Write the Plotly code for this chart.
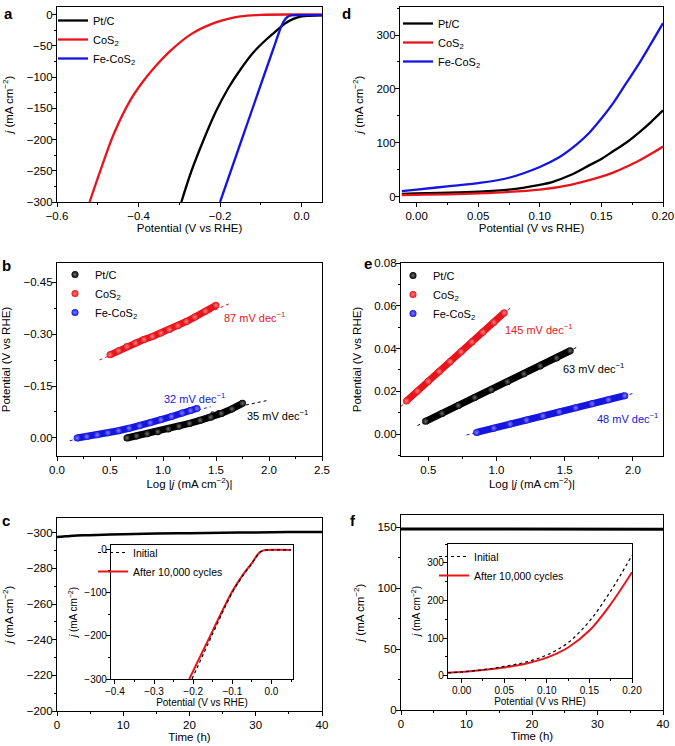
import plotly.graph_objects as go

W, H = 675, 746

# ---- panel a: HER polarisation curves (potential V vs RHE, j mA cm-2)
a_pt_x = [-0.295, -0.27, -0.24, -0.21, -0.18, -0.15, -0.12, -0.09, -0.06, -0.04, -0.02, 0.0, 0.02, 0.05]
a_pt_y = [-300, -250, -200, -155, -118, -88, -62, -42, -25, -14, -7, -3, -2, -1.5]
a_co_x = [-0.52, -0.49, -0.46, -0.42, -0.39, -0.36, -0.32, -0.27, -0.22, -0.18, -0.15, -0.1, 0.0, 0.05]
a_co_y = [-300, -243, -190, -137, -108, -84, -57, -31, -15, -7, -3, -0.5, 0, 0]
a_fe_x = [-0.2, -0.15, -0.1, -0.07, -0.055, -0.045, -0.035, -0.025, 0.0, 0.05]
a_fe_y = [-300, -206, -112, -56, -28, -12, -4, -1.5, -1, -1]

# ---- panel d: OER-side curves
d_pt_x = [-0.012, 0.05, 0.075, 0.1, 0.11, 0.125, 0.14, 0.15, 0.16, 0.17, 0.18, 0.19, 0.2]
d_pt_y = [5, 9, 13, 22, 27, 40, 58, 70, 85, 100, 118, 138, 160]
d_co_x = [-0.012, 0.05, 0.1, 0.125, 0.15, 0.16, 0.17, 0.18, 0.19, 0.2]
d_co_y = [3, 6, 13, 22, 37, 45, 55, 66, 79, 93]
d_fe_x = [-0.012, 0.0, 0.025, 0.05, 0.075, 0.1, 0.115, 0.13, 0.14, 0.15, 0.16, 0.17, 0.18, 0.19, 0.2]
d_fe_y = [10, 13, 19, 25, 35, 55, 72, 97, 118, 145, 175, 210, 245, 283, 322]

# ---- panel b: Tafel plots
b_pt_x = [0.66, 0.75, 0.85, 0.95, 1.05, 1.15, 1.25, 1.35, 1.45, 1.55, 1.65, 1.75]
b_pt_y = [0.0, -0.006, -0.012, -0.018, -0.026, -0.034, -0.042, -0.051, -0.060, -0.071, -0.084, -0.100]
b_co_x = [0.5, 0.58, 0.66, 0.74, 0.82, 0.9, 0.98, 1.06, 1.14, 1.22, 1.3, 1.4, 1.5]
b_co_y = [-0.240, -0.252, -0.264, -0.274, -0.284, -0.293, -0.303, -0.313, -0.324, -0.336, -0.349, -0.366, -0.383]
b_fe_x = [0.19, 0.28, 0.38, 0.48, 0.58, 0.68, 0.78, 0.88, 0.98, 1.08, 1.18, 1.26, 1.32]
b_fe_y = [0.0, -0.004, -0.009, -0.015, -0.021, -0.028, -0.035, -0.044, -0.053, -0.062, -0.072, -0.079, -0.085]
b_fit_pt_x = [1.45, 1.98]
b_fit_pt_y = [-0.074, -0.108]
b_fit_co_x = [0.40, 1.63]
b_fit_co_y = [-0.225, -0.388]
b_fit_fe_x = [0.12, 1.45]
b_fit_fe_y = [0.008, -0.090]
b_slopes = ["87 mV dec<sup>−1</sup>", "32 mV dec<sup>−1</sup>", "35 mV dec<sup>−1</sup>"]
b_slope_x = [1.56, 0.99, 1.77]
b_slope_y = [-0.35, -0.115, -0.065]

# ---- panel e: Tafel plots
e_pt_x = [0.48, 0.6, 0.72, 0.84, 0.96, 1.08, 1.2, 1.32, 1.44, 1.54]
e_pt_y = [0.006, 0.0097, 0.0134, 0.0171, 0.0208, 0.0245, 0.0282, 0.0319, 0.0356, 0.039]
e_co_x = [0.34, 0.42, 0.5, 0.58, 0.66, 0.74, 0.82, 0.9, 0.98, 1.057]
e_co_y = [0.0155, 0.0201, 0.0247, 0.0293, 0.0339, 0.0385, 0.0431, 0.0477, 0.0523, 0.0568]
e_fe_x = [0.854, 0.98, 1.1, 1.22, 1.34, 1.46, 1.58, 1.7, 1.82, 1.94]
e_fe_y = [0.0008, 0.0028, 0.0047, 0.0066, 0.0085, 0.0104, 0.0123, 0.0142, 0.0161, 0.018]
e_fit_pt_x = [0.42, 1.6]
e_fit_pt_y = [0.004, 0.041]
e_fit_co_x = [0.3, 1.1]
e_fit_co_y = [0.013, 0.059]
e_fit_fe_x = [0.78, 2.0]
e_fit_fe_y = [-0.0004, 0.019]
e_slopes = ["145 mV dec<sup>−1</sup>", "63 mV dec<sup>−1</sup>", "48 mV dec<sup>−1</sup>"]
e_slope_x = [1.05, 1.47, 1.72]
e_slope_y = [0.049, 0.031, 0.0077]

# ---- panel c: chronoamperometry + inset
c_t = [0, 1, 2, 4, 7, 10, 15, 20, 25, 30, 35, 40]
c_j = [-297.6, -297.9, -298.2, -298.6, -298.9, -299.2, -299.6, -299.8, -300.0, -300.2, -300.4, -300.5]
ci_init_x = [-0.203, -0.15, -0.1, -0.07, -0.05, -0.04, -0.03, -0.02, -0.01, 0.05]
ci_init_y = [-300, -195, -100, -57, -33, -19, -7, -2.5, -1.5, -1.5]
ci_aft_x = [-0.21, -0.15, -0.1, -0.07, -0.05, -0.04, -0.03, -0.02, -0.01, 0.05]
ci_aft_y = [-300, -188, -97, -55, -32, -18, -7, -2.5, -1.5, -1.5]

# ---- panel f: chronoamperometry + inset
f_t = [0, 10, 20, 30, 40]
f_j = [148.5, 148.5, 148.4, 148.4, 148.4]
fi_init_x = [-0.016, 0.0, 0.025, 0.05, 0.075, 0.1, 0.125, 0.15, 0.175, 0.2]
fi_init_y = [8, 10, 16, 25, 36, 55, 88, 145, 225, 320]
fi_aft_x = [-0.016, 0.0, 0.025, 0.05, 0.075, 0.1, 0.125, 0.15, 0.175, 0.2]
fi_aft_y = [8, 10, 15, 22, 32, 48, 75, 120, 190, 275]

BLACK, RED, BLUE = "#000000", "#e8141b", "#1515e0"
names = ["Pt/C", "CoS<sub>2</sub>", "Fe-CoS<sub>2</sub>"]
FONT = "Liberation Sans, Arial, sans-serif"


def dom_x(l, r):
    return [l / W, r / W]


def dom_y(top, bot):
    return [1 - bot / H, 1 - top / H]


def axis(domain, rng, dtick, minor, anchor, fmt=None, title=None, fsize=11.5, standoff=3, yax=False):
    d = dict(domain=domain, range=rng, dtick=dtick, anchor=anchor, automargin=False,
             showline=True, linecolor="black", linewidth=1.2, mirror=True,
             ticks="outside", ticklen=4, tickwidth=1.1, tickcolor="black",
             showgrid=False, zeroline=False, tickfont=dict(size=fsize),
             ticklabelstandoff=-3 if yax else -1,
             minor=dict(dtick=minor, ticks="outside", ticklen=2, tickwidth=1,
                        tickcolor="black", showgrid=False))
    if fmt:
        d["tickformat"] = fmt
    if title:
        d["title"] = dict(text=title, font=dict(size=fsize), standoff=standoff)
    return d


fig = go.Figure()

# panel a
for xs, ys, c, n in [(a_pt_x, a_pt_y, BLACK, names[0]), (a_co_x, a_co_y, RED, names[1]),
                     (a_fe_x, a_fe_y, BLUE, names[2])]:
    fig.add_trace(go.Scatter(x=xs, y=ys, mode="lines", name=n, line=dict(color=c, width=2.3, shape="spline"),
                             xaxis="x", yaxis="y", legend="legend"))

# panel d
for xs, ys, c, n in [(d_pt_x, d_pt_y, BLACK, names[0]), (d_co_x, d_co_y, RED, names[1]),
                     (d_fe_x, d_fe_y, BLUE, names[2])]:
    fig.add_trace(go.Scatter(x=xs, y=ys, mode="lines", name=n, line=dict(color=c, width=2.3, shape="spline"),
                             xaxis="x2", yaxis="y2", legend="legend2"))

# panels b and e (tafel)
light = {BLACK: "#707070", RED: "#ff8080", BLUE: "#8080ff"}
for ax_i, leg, sets, fits in [
    (3, "legend3", [(b_pt_x, b_pt_y, BLACK), (b_co_x, b_co_y, RED), (b_fe_x, b_fe_y, BLUE)],
     [(b_fit_pt_x, b_fit_pt_y, BLACK), (b_fit_co_x, b_fit_co_y, RED), (b_fit_fe_x, b_fit_fe_y, BLUE)]),
    (4, "legend4", [(e_pt_x, e_pt_y, BLACK), (e_co_x, e_co_y, RED), (e_fe_x, e_fe_y, BLUE)],
     [(e_fit_pt_x, e_fit_pt_y, BLACK), (e_fit_co_x, e_fit_co_y, RED), (e_fit_fe_x, e_fit_fe_y, BLUE)]),
]:
    for xs, ys, c in fits:
        fig.add_trace(go.Scatter(x=xs, y=ys, mode="lines", showlegend=False, line=dict(color=c, width=1, dash="dot"),
                                 xaxis=f"x{ax_i}", yaxis=f"y{ax_i}"))
    for (xs, ys, c), n in zip(sets, names):
        fig.add_trace(go.Scatter(x=xs, y=ys, mode="lines", showlegend=False, line=dict(color=c, width=7),
                                 xaxis=f"x{ax_i}", yaxis=f"y{ax_i}"))
        fig.add_trace(go.Scatter(x=xs, y=ys, mode="markers", name=n,
                                 marker=dict(color=c, size=7, line=dict(width=0),
                                             gradient=dict(type="radial", color=light[c])),
                                 xaxis=f"x{ax_i}", yaxis=f"y{ax_i}", legend=leg))

# panel c
fig.add_trace(go.Scatter(x=c_t, y=c_j, mode="lines", showlegend=False, line=dict(color=BLACK, width=2.5, shape="spline"),
                         xaxis="x5", yaxis="y5"))
fig.add_trace(go.Scatter(x=ci_aft_x, y=ci_aft_y, mode="lines", name="After 10,000 cycles",
                         line=dict(color=RED, width=2, shape="spline"), xaxis="x7", yaxis="y7", legend="legend5"))
fig.add_trace(go.Scatter(x=ci_init_x, y=ci_init_y, mode="lines", name="Initial",
                         line=dict(color=BLACK, width=1.2, dash="dot", shape="spline"), xaxis="x7", yaxis="y7",
                         legend="legend5"))

# panel f
fig.add_trace(go.Scatter(x=f_t, y=f_j, mode="lines", showlegend=False, line=dict(color=BLACK, width=3),
                         xaxis="x6", yaxis="y6"))
fig.add_trace(go.Scatter(x=fi_aft_x, y=fi_aft_y, mode="lines", name="After 10,000 cycles",
                         line=dict(color=RED, width=2, shape="spline"), xaxis="x8", yaxis="y8", legend="legend6"))
fig.add_trace(go.Scatter(x=fi_init_x, y=fi_init_y, mode="lines", name="Initial",
                         line=dict(color=BLACK, width=1.2, dash="dot", shape="spline"), xaxis="x8", yaxis="y8",
                         legend="legend6"))

J = "<i>j</i> (mA cm<sup>−2</sup>)"
POT = "Potential (V vs RHE)"
LOGJ = "Log |<i>j</i> (mA cm<sup>−2</sup>)|"

lay = dict(
    width=W, height=H, margin=dict(l=0, r=0, t=0, b=0),
    paper_bgcolor="white", plot_bgcolor="white",
    font=dict(family=FONT, size=11.5, color="black"),
    xaxis=axis(dom_x(57, 322), [-0.6, 0.05], 0.2, 0.1, "y", ".1f", POT),
    yaxis=axis(dom_y(7, 202), [-300, 12], 50, 25, "x", None, J, standoff=10, yax=True),
    xaxis2=axis(dom_x(400, 663), [-0.0135, 0.2], 0.05, 0.025, "y2", ".2f", POT),
    yaxis2=axis(dom_y(7, 202), [-10, 352], 100, 50, "x2", None, J, standoff=10, yax=True),
    xaxis3=axis(dom_x(57, 322), [0, 2.5], 0.5, 0.25, "y3", ".1f", LOGJ),
    yaxis3=axis(dom_y(263, 456), [0.052, -0.505], 0.15, 0.075, "x3", ".2f", POT, standoff=10, yax=True),
    xaxis4=axis(dom_x(401, 663), [0.3, 2.22], 0.5, 0.25, "y4", ".1f", LOGJ),
    yaxis4=axis(dom_y(263, 456), [-0.0102, 0.08], 0.02, 0.01, "x4", ".2f", POT, standoff=10, yax=True),
    xaxis5=axis(dom_x(57, 322), [0, 40], 10, 5, "y5", None, "Time (h)"),
    yaxis5=axis(dom_y(518, 711), [-200, -308.3], 20, 10, "x5", None, J, standoff=10, yax=True),
    xaxis6=axis(dom_x(401, 663), [0, 40], 10, 5, "y6", None, "Time (h)"),
    yaxis6=axis(dom_y(515, 710), [0, 160], 50, 25, "x6", None, J, standoff=10, yax=True),
    xaxis7=axis(dom_x(111, 293), [-0.41, 0.055], 0.1, 0.05, "y7", ".1f", POT, fsize=10, standoff=1),
    yaxis7=axis(dom_y(545, 679), [-300, 10], 100, 50, "x7", None, J, fsize=10, standoff=4, yax=True),
    xaxis8=axis(dom_x(448, 632), [-0.016, 0.2], 0.05, 0.025, "y8", ".2f", POT, fsize=10, standoff=1),
    yaxis8=axis(dom_y(544, 678), [-6, 350], 100, 50, "x8", None, J, fsize=10, standoff=4, yax=True),
)

leg_common = dict(xanchor="left", yanchor="top", bgcolor="rgba(0,0,0,0)", tracegroupgap=0,
                  itemwidth=30, font=dict(size=11))
lay["legend"] = dict(leg_common, x=53 / W, y=1 - 6 / H)
lay["legend2"] = dict(leg_common, x=398 / W, y=1 - 9 / H)
lay["legend3"] = dict(leg_common, x=55 / W, y=1 - 260 / H)
lay["legend4"] = dict(leg_common, x=393 / W, y=1 - 261 / H)
lay["legend5"] = dict(leg_common, x=93 / W, y=1 - 538 / H, font=dict(size=10.5), traceorder="reversed")
lay["legend6"] = dict(leg_common, x=434 / W, y=1 - 542 / H, font=dict(size=10.5), traceorder="reversed")

fig.update_layout(**lay)

# panel letters
for txt, x, y in [("a", 2, 3), ("d", 340, 3), ("b", 0, 255), ("e", 362, 253), ("c", 0, 510), ("f", 348, 510)]:
    fig.add_annotation(text=f"<b>{txt}</b>", x=x / W, y=1 - y / H, xref="paper", yref="paper",
                       xanchor="left", yanchor="top", showarrow=False, font=dict(size=15))

# tafel slope labels
for labs, xs, ys, cols, ax_i in [(b_slopes, b_slope_x, b_slope_y, [RED, BLUE, BLACK], 3),
                                 (e_slopes, e_slope_x, e_slope_y, [RED, BLACK, BLUE], 4)]:
    for t, x, y, c in zip(labs, xs, ys, cols):
        fig.add_annotation(text=t, x=x, y=y, xref=f"x{ax_i}", yref=f"y{ax_i}", xanchor="left",
                           showarrow=False, font=dict(size=11, color=c))

# page body has an 8px default margin; drop it so the figure sits at the window corner
fig.write_html("out.html", config={"displayModeBar": False},
               post_script="document.body.style.margin='0';")
